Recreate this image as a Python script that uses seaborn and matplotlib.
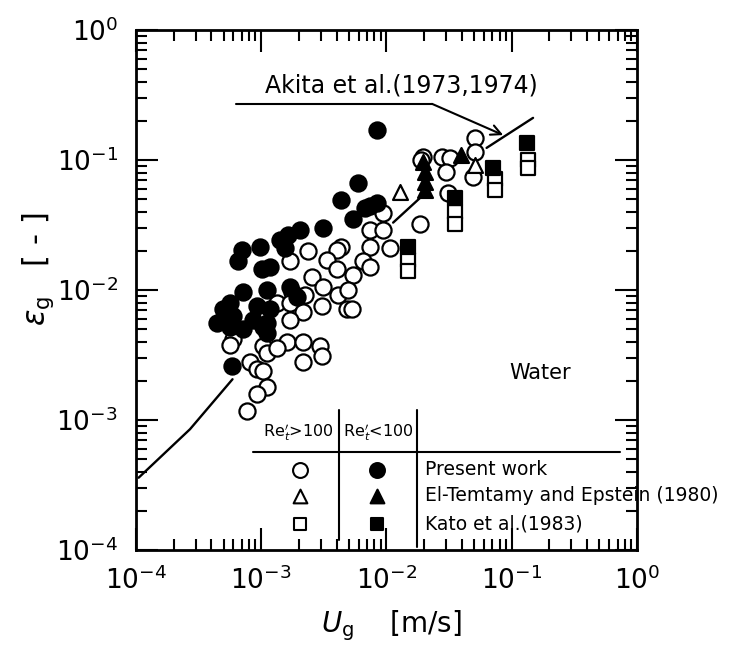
import numpy as np
import pandas as pd
import matplotlib
matplotlib.use("Agg")
import matplotlib.pyplot as plt
from matplotlib.ticker import LogLocator, NullFormatter
import seaborn as sns

# ---- Present work, Re't > 100 (open circles) ----
pw_open_ug = [9.4e-3, 7.4e-3, 9.4e-3, 7.4e-3, 1.07e-2, 4.3e-3, 4.0e-3, 2.36e-3, 1.7e-3, 3.35e-3,
              6.5e-3, 7.4e-3, 4.0e-3, 5.4e-3, 2.54e-3, 3.1e-3, 4.1e-3, 4.9e-3, 1.76e-3, 2.23e-3,
              1.34e-3, 1.7e-3, 3.05e-3, 4.8e-3, 5.3e-3, 2.15e-3, 1.7e-3, 5.9e-4, 5.6e-4, 1.03e-3,
              1.11e-3, 1.6e-3, 2.15e-3, 2.94e-3, 1.34e-3, 2.15e-3, 3.05e-3, 8.1e-4, 9.2e-4, 1.03e-3,
              1.11e-3, 9.2e-4, 7.7e-4, 5.1e-2, 5.1e-2, 4.9e-2, 2.8e-2, 3.2e-2, 1.95e-2, 1.9e-2,
              3.0e-2, 3.1e-2, 1.85e-2]
pw_open_eg = [3.9e-2, 2.9e-2, 2.9e-2, 2.16e-2, 2.1e-2, 2.16e-2, 2.05e-2, 1.98e-2, 1.66e-2, 1.71e-2,
              1.66e-2, 1.51e-2, 1.44e-2, 1.31e-2, 1.27e-2, 1.05e-2, 9.2e-3, 1.0e-2, 9.6e-3, 9.2e-3,
              8.0e-3, 8.0e-3, 7.5e-3, 7.1e-3, 7.1e-3, 6.8e-3, 5.9e-3, 4.2e-3, 3.8e-3, 3.7e-3,
              3.3e-3, 4.0e-3, 4.0e-3, 3.7e-3, 3.6e-3, 2.8e-3, 3.1e-3, 2.8e-3, 2.45e-3, 2.37e-3,
              1.8e-3, 1.58e-3, 1.17e-3, 0.148, 0.116, 7.4e-2, 0.106, 0.104, 0.106, 0.100,
              8.1e-2, 5.6e-2, 3.2e-2]

# ---- Present work, Re't < 100 (filled circles) ----
pw_fill_ug = [5.9e-3, 4.3e-3, 7.4e-3, 8.4e-3, 5.4e-3, 3.1e-3, 2.04e-3, 1.64e-3, 1.41e-3, 1.55e-3,
              9.8e-4, 7.0e-4, 6.5e-4, 1.17e-3, 1.01e-3, 1.7e-3, 1.93e-3, 1.11e-3, 7.1e-4, 5.6e-4,
              4.95e-4, 4.4e-4, 5.9e-4, 8.6e-4, 1.11e-3, 9.2e-4, 1.17e-3, 5.6e-4, 7.1e-4, 1.03e-3,
              1.11e-3, 5.8e-4, 8.4e-3, 6.7e-3]
pw_fill_eg = [6.7e-2, 4.95e-2, 4.4e-2, 4.7e-2, 3.5e-2, 3.0e-2, 2.9e-2, 2.67e-2, 2.44e-2, 2.12e-2,
              2.16e-2, 2.05e-2, 1.66e-2, 1.51e-2, 1.44e-2, 1.05e-2, 8.9e-3, 1.0e-2, 9.6e-3, 8.0e-3,
              7.1e-3, 5.6e-3, 6.3e-3, 5.9e-3, 5.6e-3, 7.5e-3, 7.1e-3, 5.2e-3, 5.0e-3, 5.2e-3,
              4.7e-3, 2.6e-3, 0.171, 4.3e-2]

# ---- El-Temtamy and Epstein (1980) ----
ee_open_ug = [1.28e-2, 5.1e-2]
ee_open_eg = [5.7e-2, 9.2e-2]
ee_fill_ug = [1.95e-2, 2.03e-2, 2.03e-2, 2.03e-2, 3.9e-2]
ee_fill_eg = [9.7e-2, 8.1e-2, 6.8e-2, 5.9e-2, 0.110]

# ---- Kato et al. (1983) ----
ka_open_ug = [1.49e-2, 1.49e-2, 3.5e-2, 3.5e-2, 7.3e-2, 7.3e-2, 0.135, 0.135]
ka_open_eg = [1.71e-2, 1.39e-2, 4.0e-2, 3.2e-2, 7.1e-2, 5.9e-2, 0.100, 8.7e-2]
ka_fill_ug = [1.49e-2, 3.5e-2, 7.1e-2, 0.132]
ka_fill_eg = [2.16e-2, 5.1e-2, 8.7e-2, 0.136]

# ---- Akita et al. correlation (visible pieces of the curve) ----
akita_ug = [1.05e-4, 2.7e-4, 5.9e-4, 1.13e-2, 1.85e-2, 6.3e-2, 0.148]
akita_eg = [3.6e-4, 8.5e-4, 2.06e-3, 3.3e-2, 5.1e-2, 0.124, 0.211]
akita_piece = [0, 0, 0, 1, 1, 2, 2]

x_ticks = [1e-4, 1e-3, 1e-2, 1e-1, 1e0]
y_ticks = [1e-4, 1e-3, 1e-2, 1e-1, 1e0]

sns.set_theme(style="ticks")
plt.rcParams["font.family"] = ["DejaVu Sans"]
plt.rcParams["mathtext.fontset"] = "dejavusans"

fig = plt.figure(figsize=(7.33, 6.5), dpi=100)
ax = fig.add_axes([0.1855, 0.1538, 0.6835, 0.8])
ax.set_xscale("log")
ax.set_yscale("log")

akita = pd.DataFrame({"Ug": akita_ug, "eg": akita_eg, "piece": akita_piece})
sns.lineplot(data=akita, x="Ug", y="eg", units="piece", estimator=None, sort=False,
             color="black", linewidth=1.7, ax=ax, zorder=2, legend=False)

CIRCLE_S, TRI_S, SQ_S = 135, 115, 92


def points(xs, ys, marker, filled, size):
    sns.scatterplot(x=xs, y=ys, marker=marker, s=size,
                    facecolor="black" if filled else "white",
                    edgecolor="black", linewidth=1.6, ax=ax, zorder=3, legend=False)


points(pw_open_ug, pw_open_eg, "o", False, CIRCLE_S)
points(pw_fill_ug, pw_fill_eg, "o", True, CIRCLE_S)
points(ee_open_ug, ee_open_eg, "^", False, TRI_S)
points(ee_fill_ug, ee_fill_eg, "^", True, TRI_S)
points(ka_open_ug, ka_open_eg, "s", False, SQ_S)
points(ka_fill_ug, ka_fill_eg, "s", True, SQ_S)

ax.set_xlim(1e-4, 1)
ax.set_ylim(1e-4, 1)
for axis in (ax.xaxis, ax.yaxis):
    axis.set_major_locator(LogLocator(base=10, numticks=10))
    axis.set_minor_locator(LogLocator(base=10, subs=np.arange(2, 10), numticks=10))
    axis.set_minor_formatter(NullFormatter())
ax.set_xticks(x_ticks)
ax.set_yticks(y_ticks)

ax.tick_params(which="both", direction="in", top=True, right=True, width=1.5,
               color="black", labelcolor="black")
ax.tick_params(which="major", length=16, labelsize=19)
ax.tick_params(which="minor", length=8)
ax.tick_params(axis="x", which="major", pad=12)
ax.tick_params(axis="y", which="major", pad=13)
for sp in ax.spines.values():
    sp.set_linewidth(2.0)
    sp.set_color("black")

ax.set_xlabel(r"$U_{\rm g}$    [m/s]", fontsize=20, color="black")
ax.xaxis.set_label_coords(0.51, -0.112)
ax.set_ylabel(r"$\varepsilon_{\rm g}$   [ - ]", fontsize=22, color="black")
ax.yaxis.set_label_coords(-0.16, 0.54)

# correlation label with its pointer
ax.text(0.257, 0.894, "Akita et al.(1973,1974)", transform=ax.transAxes,
        fontsize=17, ha="left", va="center", color="black")
ax.plot([0.2, 0.591], [0.858, 0.858], transform=ax.transAxes, color="black", lw=1.5)
ax.annotate("", xy=(0.733, 0.798), xytext=(0.591, 0.858),
            xycoords="axes fraction", textcoords="axes fraction",
            arrowprops=dict(arrowstyle="->", color="black", lw=1.5,
                            mutation_scale=18, shrinkA=0, shrinkB=0))

ax.text(0.745, 0.34, "Water", transform=ax.transAxes, fontsize=15,
        ha="left", va="center", color="black")

# key table
tbl = dict(transform=ax.transAxes, color="black", lw=1.5, zorder=2)
ax.plot([0.234, 0.966], [0.188, 0.188], **tbl)
ax.plot([0.405, 0.405], [0.27, 0.02], **tbl)
ax.plot([0.561, 0.561], [0.27, 0.006], **tbl)
ax.text(0.325, 0.226, r"Re$^{\prime}_{t}$>100", transform=ax.transAxes, fontsize=11.5,
        ha="center", va="center", color="black")
ax.text(0.484, 0.226, r"Re$^{\prime}_{t}$<100", transform=ax.transAxes, fontsize=11.5,
        ha="center", va="center", color="black")

key_rows = [("o", CIRCLE_S * 0.85, 0.154, "Present work"),
            ("^", TRI_S * 0.85, 0.104, "El-Temtamy and Epstein (1980)"),
            ("s", SQ_S * 0.8, 0.050, "Kato et al.(1983)")]
for mk, sz, yy, label in key_rows:
    ax.scatter([0.327], [yy], marker=mk, s=sz, facecolor="white", edgecolor="black",
               linewidth=1.5, transform=ax.transAxes, zorder=3)
    ax.scatter([0.481], [yy], marker=mk, s=sz, facecolor="black", edgecolor="black",
               linewidth=1.5, transform=ax.transAxes, zorder=3)
    ax.text(0.577, yy, label, transform=ax.transAxes, fontsize=13.5,
            ha="left", va="center", color="black", clip_on=False)

fig.savefig("out.png", dpi=100, facecolor="white")
